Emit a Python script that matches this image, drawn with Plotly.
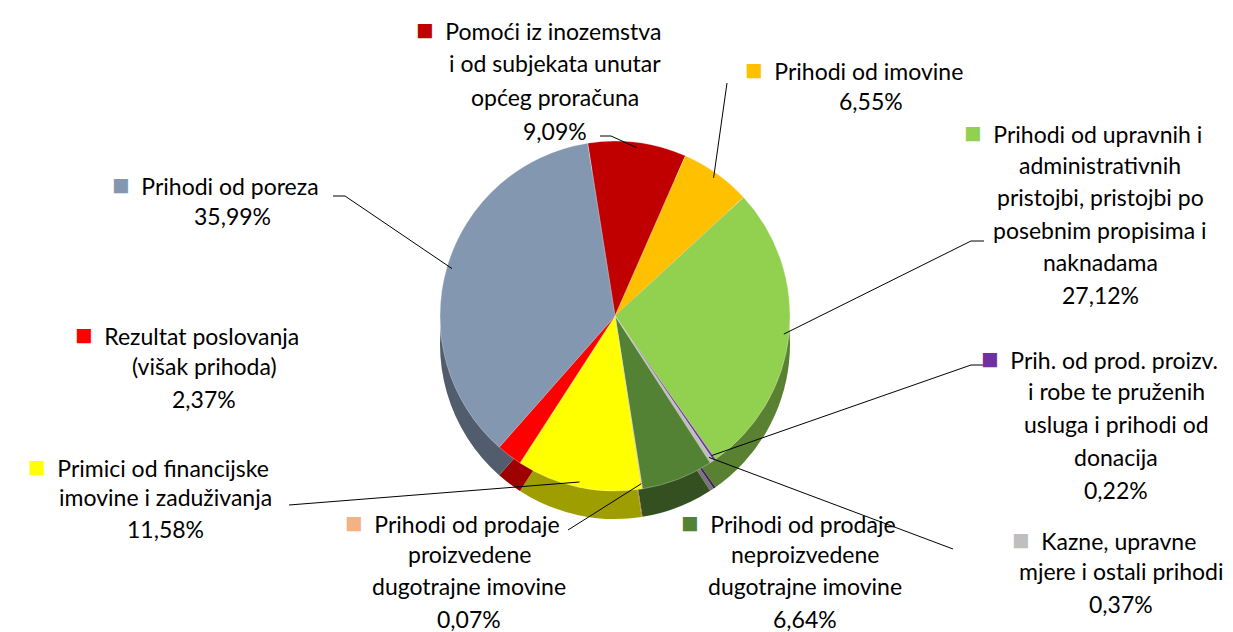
import plotly.graph_objects as go
import math

# ---------------- data ----------------
categories = [
    "Pomoći iz inozemstva i od subjekata unutar općeg proračuna",
    "Prihodi od imovine",
    "Prihodi od upravnih i administrativnih pristojbi, pristojbi po posebnim propisima i naknadama",
    "Prih. od prod. proizv. i robe te pruženih usluga i prihodi od donacija",
    "Kazne, upravne mjere i ostali prihodi",
    "Prihodi od prodaje neproizvedene dugotrajne imovine",
    "Prihodi od prodaje proizvedene dugotrajne imovine",
    "Primici od financijske imovine i zaduživanja",
    "Rezultat poslovanja (višak prihoda)",
    "Prihodi od poreza",
]
label_lines = [
    ["Pomoći iz inozemstva", "i od subjekata unutar", "općeg proračuna"],
    ["Prihodi od imovine"],
    ["Prihodi od upravnih i", "administrativnih", "pristojbi, pristojbi po", "posebnim propisima i", "naknadama"],
    ["Prih. od prod. proizv.", "i robe te pruženih", "usluga i prihodi od", "donacija"],
    ["Kazne, upravne", "mjere i ostali prihodi"],
    ["Prihodi od prodaje", "neproizvedene", "dugotrajne imovine"],
    ["Prihodi od prodaje", "proizvedene", "dugotrajne imovine"],
    ["Primici od financijske", "imovine i zaduživanja"],
    ["Rezultat poslovanja", "(višak prihoda)"],
    ["Prihodi od poreza"],
]
values = [9.09, 6.55, 27.12, 0.22, 0.37, 6.64, 0.07, 11.58, 2.37, 35.99]
value_labels = ["9,09%", "6,55%", "27,12%", "0,22%", "0,37%", "6,64%", "0,07%", "11,58%", "2,37%", "35,99%"]
colors = ["#C00000", "#FFC000", "#92D050", "#7030A0", "#BFBFBF",
          "#548235", "#F4B183", "#FFFF00", "#FF0000", "#8497B0"]

# ---------------- layout helpers ----------------
W, H = 1233, 632
CX, CY, R = 607, 308, 175      # pie centre / radius in pixels
DEPTH = 28                     # fake 3-D depth
ROT = -9                       # start angle (deg, clockwise from 12 o'clock)
FONT = "Lato, 'Open Sans', sans-serif"
FS = 23
STEP = 33
SQ_SHIFT = 17                  # half width of square + gap


def px(x):
    return x / W


def py(y):
    return 1 - y / H


def darker(hexcol, f=0.62):
    h = hexcol.lstrip("#")
    r, g, b = (int(h[i:i + 2], 16) for i in (0, 2, 4))
    return "rgb(%d,%d,%d)" % (r * f, g * f, b * f)


def domain_for(cy):
    return dict(x=[px(CX - R), px(CX + R)], y=[py(cy + R), py(cy - R)])


fig = go.Figure()
# side wall (darker copy, shifted down)
fig.add_trace(go.Pie(
    labels=categories, values=values, sort=False, direction="clockwise",
    rotation=ROT, marker=dict(colors=[darker(c) for c in colors], line=dict(width=0)),
    textinfo="none", hoverinfo="skip", showlegend=False,
    domain=domain_for(CY + DEPTH),
))
# top face
fig.add_trace(go.Pie(
    labels=categories, values=values, sort=False, direction="clockwise",
    rotation=ROT, marker=dict(colors=colors, line=dict(width=0.6, color="rgba(255,255,255,0.5)")),
    textinfo="none", hovertemplate="%{label}<br>%{percent}<extra></extra>", showlegend=False,
    domain=domain_for(CY),
))

# label block placement: (text centre x, first-line y, line step)
label_pos = [
    (547, 21, 34), (863, 60, 33), (1092, 124, 32.5), (1108, 350, 33), (1113, 530, 33),
    (797, 513, 32.5), (461, 513, 32.5), (157, 457, 32), (196, 325, 33), (224, 176, 32),
]
# leader line start points (label side), None = no leader
leader_start = [
    [(592, 128), (603, 128)],
    [(719, 75)],
    [(976, 233), (963, 233)],
    [(975, 357), (963, 357)],
    [(945, 541)],
    None,
    [(560, 522)],
    [(281, 497)],
    None,
    [(325, 188), (337, 188)],
]

SQ = '<span style="color:%s;font-size:29px">■</span>&nbsp;&nbsp;'

annotations = []
shapes = []
total = sum(values)
cum = 0.0
for i, lines in enumerate(label_lines):
    cx, y0, step = label_pos[i]
    all_lines = lines + [value_labels[i]]
    for j, t in enumerate(all_lines):
        x = cx
        if j == 0:
            t = (SQ % colors[i]) + t
            x = cx - SQ_SHIFT
        annotations.append(dict(
            text=t, x=px(x), y=py(y0 + j * step), xref="paper", yref="paper",
            xanchor="center", yanchor="middle", showarrow=False,
            font=dict(family=FONT, size=FS, color="#000000"),
        ))
    # leader line to slice
    mid = ROT + (cum + values[i] / 2) / total * 360
    cum += values[i]
    if leader_start[i]:
        a = math.radians(mid)
        ex = CX + R * 0.97 * math.sin(a)
        ey = CY - R * 0.97 * math.cos(a)
        pts = leader_start[i] + [(ex, ey)]
        for (x0, yy0), (x1, yy1) in zip(pts[:-1], pts[1:]):
            shapes.append(dict(type="line", xref="paper", yref="paper",
                               x0=px(x0), y0=py(yy0), x1=px(x1), y1=py(yy1),
                               line=dict(color="#000000", width=1)))

fig.update_layout(
    width=W, height=H,
    margin=dict(l=0, r=0, t=0, b=0),
    paper_bgcolor="white", plot_bgcolor="white",
    annotations=annotations, shapes=shapes,
    showlegend=False,
)

fig.write_html("out.html")
